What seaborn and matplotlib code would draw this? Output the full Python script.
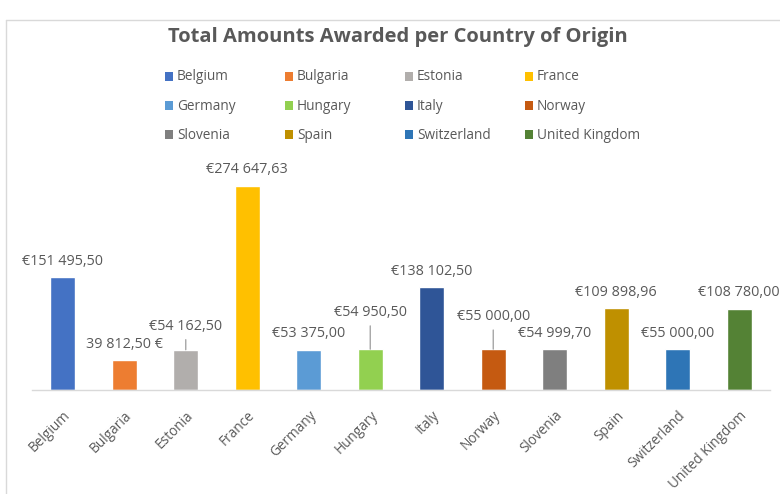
import matplotlib
matplotlib.use('Agg')
from matplotlib import pyplot as plt
from matplotlib.lines import Line2D
from matplotlib.patches import Rectangle
import seaborn as sns

# Amounts awarded
countries = ['Belgium', 'Bulgaria', 'Estonia', 'France', 'Germany', 'Hungary',
             'Italy', 'Norway', 'Slovenia', 'Spain', 'Switzerland', 'United Kingdom']
amounts = [151495.50, 39812.50, 54162.50, 274647.63, 53375.00, 54950.50,
           138102.50, 55000.00, 54999.70, 109898.96, 55000.00, 108780.00]
amount_labels = ['€151 495,50', '39 812,50 €', '€54 162,50', '€274 647,63',
                 '€53 375,00', '€54 950,50', '€138 102,50', '€55 000,00',
                 '€54 999,70', '€109 898,96', '€55 000,00', '€108 780,00']
colors = ['#4472C4', '#ED7D31', '#B1AEAC', '#FFC000', '#5B9BD5', '#92D050',
          '#2F5597', '#C55A11', '#7F7F7F', '#BF9000', '#2E75B6', '#548235']

# data labels: points above the bar top, three were dragged up with a leader line
label_raise = [11.5, 11.5, 17, 11.5, 12, 26.5, 11.5, 23.5, 11.5, 11.5, 11.5, 12]
leader = [False, False, True, False, False, True, False, True, False, False, False, False]

grey_text = '#595959'
W, H = 780, 494

sns.set_style('white')
plt.rcParams['font.family'] = ['Open Sans', 'DejaVu Sans']

fig = plt.figure(figsize=(W / 100, H / 100), dpi=100)
ax = fig.add_axes([32 / W, 1 - 390 / H, 738 / W, 223 / H])

sns.barplot(x=countries, y=amounts, hue=countries, palette=colors,
            width=0.4, legend=False, saturation=1, ax=ax)
ax.set_ylim(0, 300000)
ax.set_xlim(-0.5, len(countries) - 0.5)
ax.set_yticks([])
ax.set_xlabel('')
ax.set_ylabel('')
sns.despine(ax=ax, left=True)
ax.spines['bottom'].set_color('#D9D9D9')
ax.spines['bottom'].set_linewidth(1)
ax.tick_params(axis='x', length=0, pad=13, labelsize=9.8, labelcolor=grey_text)
plt.setp(ax.get_xticklabels(), rotation=45, ha='right', rotation_mode='anchor')

for i, (v, txt) in enumerate(zip(amounts, amount_labels)):
    arrow = None
    if leader[i]:
        arrow = dict(arrowstyle='-', color='#A6A6A6', lw=1, shrinkA=2, shrinkB=0)
    ax.annotate(txt, xy=(i, v), xytext=(0, label_raise[i]), textcoords='offset points',
                ha='center', va='center', fontsize=10.4, color=grey_text,
                arrowprops=arrow, annotation_clip=False)

# title
fig.text(398 / W, 1 - 37 / H, 'Total Amounts Awarded per Country of Origin',
         ha='center', va='center', fontsize=14.5, fontweight='bold', color=grey_text)

# legend laid out like Excel: 4 equal columns, row by row
for i, (name, c) in enumerate(zip(countries, colors)):
    row, col = divmod(i, 4)
    x = 165 + col * 120
    y = 77 + row * 29
    fig.add_artist(Rectangle((x / W, 1 - (y + 4.5) / H), 7.5 / W, 9 / H,
                             transform=fig.transFigure, color=c, lw=0))
    fig.text((x + 12) / W, 1 - y / H, name, ha='left', va='center',
             fontsize=9.8, color=grey_text)

# chart frame edges visible in the screenshot
fig.add_artist(Line2D([6 / W, 6 / W], [0, 1 - 20 / H], color='#D9D9D9', lw=1))
fig.add_artist(Line2D([6 / W, 1], [1 - 20 / H, 1 - 20 / H], color='#D9D9D9', lw=1))

fig.savefig('out.png', dpi=100)
